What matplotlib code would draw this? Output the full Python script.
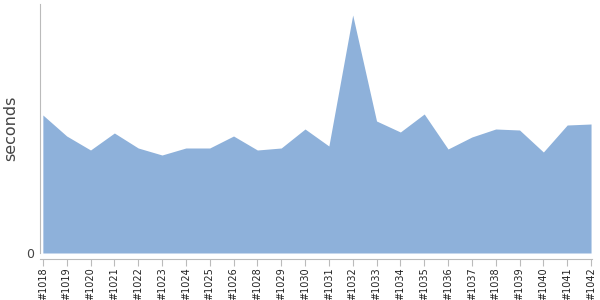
import matplotlib
matplotlib.use("Agg")
import matplotlib.pyplot as plt

# build numbers (1027 is missing in the run)
builds = ["#1018", "#1019", "#1020", "#1021", "#1022", "#1023", "#1024", "#1025",
          "#1026", "#1028", "#1029", "#1030", "#1031", "#1032", "#1033", "#1034",
          "#1035", "#1036", "#1037", "#1038", "#1039", "#1040", "#1041", "#1042"]
# duration per build, seconds
seconds = [138, 117, 103, 120, 105, 98, 105, 105,
           117, 103, 105, 124, 107, 238, 132, 121,
           139, 104, 116, 124, 123, 101, 128, 129]

fig = plt.figure(figsize=(6, 3), dpi=100)
ax = fig.add_axes([40 / 600, 47 / 300, 552 / 600, 249 / 300])

x = list(range(len(builds)))
ax.fill_between(x, seconds, 0, color="#8eb1da", linewidth=0)

ax.set_xlim(-0.12, len(builds) - 1 + 0.04)
ax.set_ylim(0, 249)

ax.set_xticks(x)
ax.set_xticklabels(builds)
ax.set_yticks([0])
ax.set_yticklabels(["0"])
ax.set_ylabel("seconds", fontsize=11.5, color="#444444", labelpad=6)

for side in ["top", "right"]:
    ax.spines[side].set_visible(False)
ax.spines["left"].set_color("#bbbbbb")
ax.spines["bottom"].set_color("#bbbbbb")
ax.spines["bottom"].set_position(("outward", 4))
ax.tick_params(axis="x", colors="#bbbbbb", length=5, pad=1.5, labelcolor="#222222",
               labelrotation=90, labelsize=7)
ax.tick_params(axis="y", length=0, pad=4, labelcolor="#444444", labelsize=9)

fig.savefig("out.png", dpi=100)
